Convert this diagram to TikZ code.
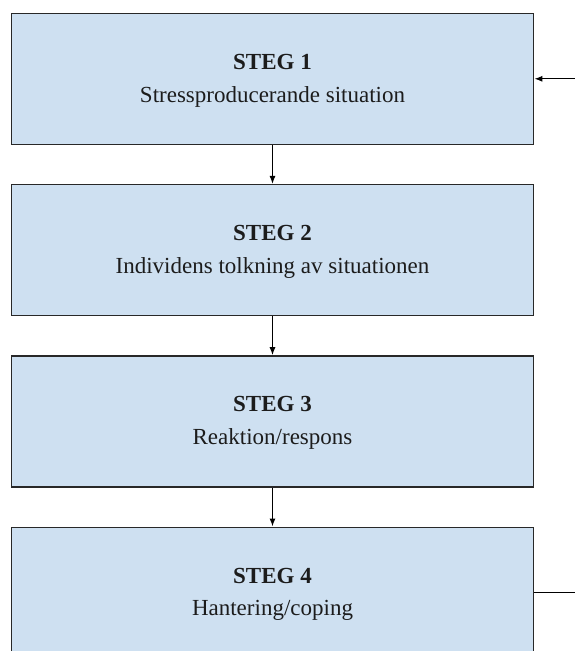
\documentclass[tikz,border=0pt]{standalone}
\usepackage{fontspec}
\setmainfont{Liberation Serif}
\usetikzlibrary{arrows.meta}
\definecolor{boxfill}{RGB}{206,224,241}
\definecolor{boxline}{RGB}{40,40,40}
\definecolor{txt}{RGB}{28,28,28}
\tikzset{
  stepbox/.style={draw=boxline, fill=boxfill, line width=1.4pt, minimum width=522.4pt, minimum height=131pt, inner sep=0pt},
  title/.style={font=\fontsize{23}{23}\selectfont\bfseries, text=txt, anchor=base, inner sep=0pt},
  sub/.style={font=\fontsize{23}{23}\selectfont, text=txt, anchor=base, inner sep=0pt},
  conn/.style={draw=black, line width=1.1pt, -{Latex[length=8pt,width=6pt]}},
  plain/.style={draw=black, line width=1.1pt}
}
\begin{document}
\begin{tikzpicture}[x=1pt,y=-1pt]
\path[use as bounding box] (0,0) rectangle (575,651);
\clip (0,0) rectangle (575,651);
\fill[white] (0,0) rectangle (575,651);
\node[stepbox] (b1) at (272.5,78.8) {};
\node[stepbox] (b2) at (272.5,250.1) {};
\node[stepbox] (b3) at (272.5,421.4) {};
\node[stepbox] (b4) at (272.5,592.7) {};
\node[title] (t1) at ([yshift=9.5pt]b1.center) {STEG 1};
\node[sub] (s1) at ([yshift=-23.2pt]b1.center) {Stressproducerande situation};
\node[title] (t2) at ([yshift=9.5pt]b2.center) {STEG 2};
\node[sub] (s2) at ([yshift=-23.2pt]b2.center) {Individens tolkning av situationen};
\node[title] (t3) at ([yshift=9.5pt]b3.center) {STEG 3};
\node[sub] (s3) at ([yshift=-23.2pt]b3.center) {Reaktion/respons};
\node[title] (t4) at ([yshift=9.5pt]b4.center) {STEG 4};
\node[sub] (s4) at ([yshift=-23.2pt]b4.center) {Hantering/coping};
\coordinate (in1) at (575,78.8);
\coordinate (out4) at (575,592.7);
\draw[conn] (b1.south) -- (b2.north);
\draw[conn] (b2.south) -- (b3.north);
\draw[conn] (b3.south) -- (b4.north);
\draw[conn] (in1) -- (b1.east);
\draw[plain] (b4.east) -- (out4);
\end{tikzpicture}
\end{document}
